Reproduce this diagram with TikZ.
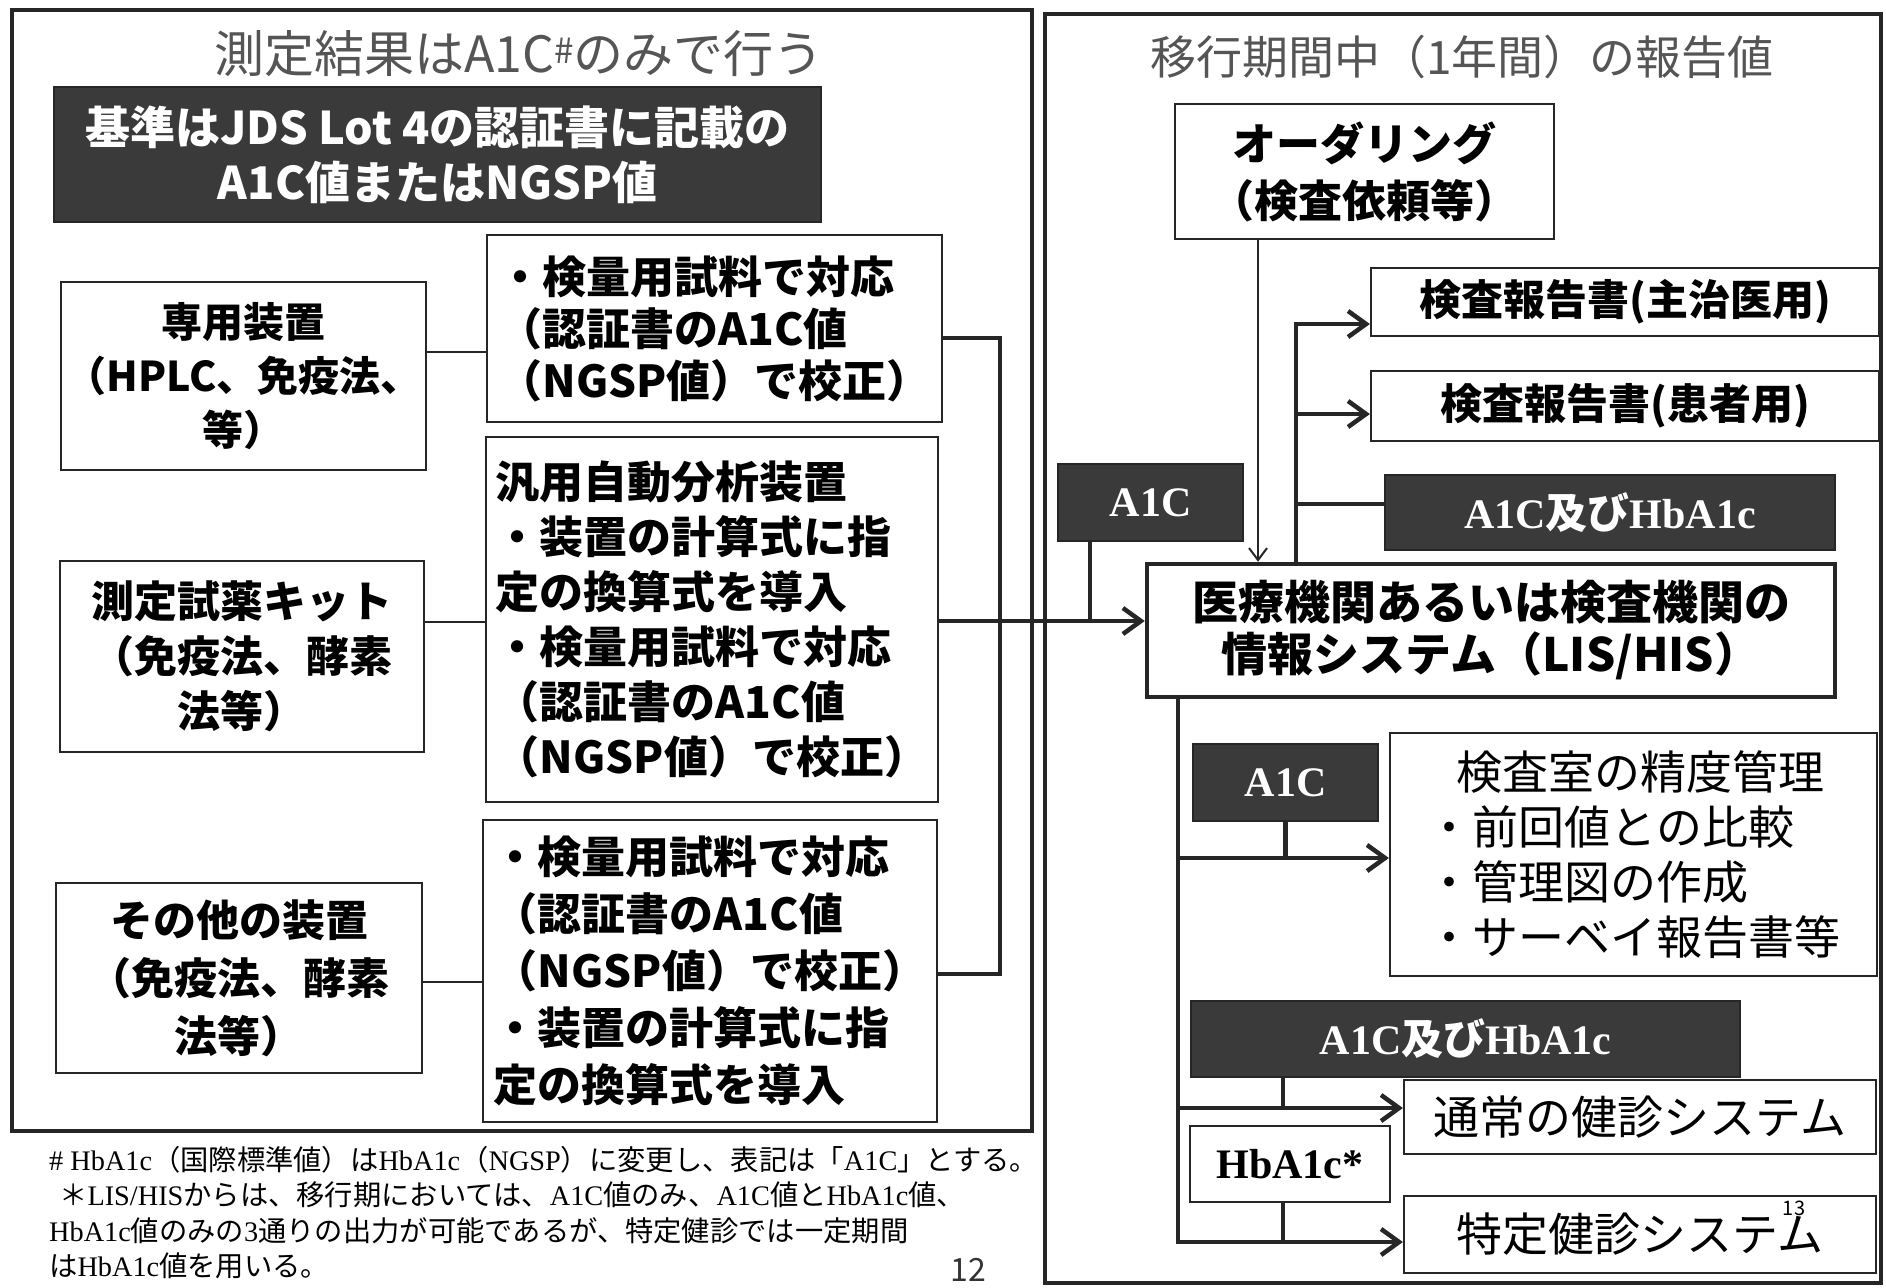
\documentclass[tikz,border=0pt]{standalone}
\usepackage{fontspec}
\setmainfont{Noto Sans CJK JP}
\newfontfamily\tms{Liberation Serif}
\usetikzlibrary{arrows.meta}
\definecolor{dk}{HTML}{3A3A3A}
\definecolor{tg}{HTML}{555555}
\newcommand\fs[2]{\fontsize{#1}{#2}\selectfont}
\newcommand\tb[1]{{\tms\bfseries #1}}
\tikzset{
 box/.style={draw=black!85, line width=2.2pt, fill=white, inner sep=0pt, align=center},
 dbox/.style={draw=black!85, line width=2.5pt, fill=dk, text=white, inner sep=0pt, align=center},
 panel/.style={draw=black!85, line width=4pt, inner sep=0pt},
 bus/.style={line width=4.5pt, draw=black!85},
 tline/.style={line width=2pt, draw=black!85},
 arr/.style={-{Straight Barb[length=18pt,width=26pt]}},
 tarr/.style={-{Straight Barb[length=12pt,width=18pt]}},
}
\begin{document}
\begin{tikzpicture}[x=1pt,y=-1pt]
\useasboundingbox (0,0) rectangle (1886,1287);
\fill[white] (0,0) rectangle (1886,1287);
% panels
\node[panel, minimum width=1020pt, minimum height=1121pt] (lp) at (522,570.5) {};
\node[panel, minimum width=836pt, minimum height=1269pt] (rp) at (1463,648.5) {};
% left panel
\node[text=tg, font=\fs{50}{56}] (lt) at (519,54) {測定結果はA1C\textsuperscript{\#}のみで行う};
\node[dbox, minimum width=767pt, minimum height=135pt, font=\bfseries\fs{45}{55}] (std) at (437.5,154.5) {基準はJDS Lot 4の認証書に記載の\\A1C値またはNGSP値};
\node[box, minimum width=365pt, minimum height=188pt, font=\bfseries\fs{41}{54}] (dev1) at (243.5,376) {専用装置\\（HPLC、免疫法、\\等）};
\node[box, align=left, minimum width=455pt, minimum height=187pt, font=\bfseries\fs{44}{52}] (cal1) at (714.5,328.5) {・検量用試料で対応\\（認証書のA1C値\\（NGSP値）で校正）};
\node[box, minimum width=364pt, minimum height=191pt, font=\bfseries\fs{43}{55}] (kit) at (242,656.5) {測定試薬キット\\（免疫法、酵素\\法等）};
\node[box, align=left, minimum width=452pt, minimum height=365pt, font=\bfseries\fs{44}{55}] (gen) at (712,619.5) {汎用自動分析装置\\・装置の計算式に指\\定の換算式を導入\\・検量用試料で対応\\（認証書のA1C値\\（NGSP値）で校正）};
\node[box, minimum width=366pt, minimum height=190pt, font=\bfseries\fs{43}{58}] (oth) at (239,978) {その他の装置\\（免疫法、酵素\\法等）};
\node[box, align=left, minimum width=454pt, minimum height=302pt, font=\bfseries\fs{44}{57}] (cal3) at (710,971) {・検量用試料で対応\\（認証書のA1C値\\（NGSP値）で校正）\\・装置の計算式に指\\定の換算式を導入};
% right panel
\node[text=tg, font=\fs{46}{50}] (rt) at (1462,57) {移行期間中（1年間）の報告値};
\node[box, minimum width=379pt, minimum height=135pt, font=\bfseries\fs{44}{57}] (ord) at (1364.5,171.5) {オーダリング\\（検査依頼等）};
\node[box, minimum width=508pt, minimum height=68pt, font=\bfseries\fs{42}{50}] (rep1) at (1625,302) {検査報告書(主治医用)};
\node[box, minimum width=508pt, minimum height=70pt, font=\bfseries\fs{42}{50}] (rep2) at (1625,406) {検査報告書(患者用)};
\node[dbox, minimum width=450pt, minimum height=75pt, font=\fs{42}{50}] (hb1) at (1610,512.5) {\tb{A1C}{\bfseries 及び}\tb{HbA1c}};
\node[dbox, minimum width=185pt, minimum height=77pt, font=\fs{42}{50}] (a1c1) at (1150.5,502.5) {\tb{A1C}};
\node[box, line width=4.5pt, minimum width=688pt, minimum height=133pt, font=\bfseries\fs{46}{52}] (lis) at (1491,630.5) {医療機関あるいは検査機関の\\情報システム（LIS/HIS）};
\node[dbox, minimum width=185pt, minimum height=77pt, font=\fs{42}{50}] (a1c2) at (1285.5,782.5) {\tb{A1C}};
\node[box, align=left, minimum width=487pt, minimum height=243pt, font=\fs{46}{55}] (qc) at (1633.5,854.5) {\hspace*{30pt}検査室の精度管理\\・前回値との比較\\・管理図の作成\\・サーベイ報告書等};
\node[dbox, minimum width=549pt, minimum height=76pt, font=\fs{42}{50}] (hb2) at (1465.5,1039) {\tb{A1C}{\bfseries 及び}\tb{HbA1c}};
\node[box, minimum width=472pt, minimum height=74pt, font=\fs{46}{50}] (norm) at (1640,1117) {通常の健診システム};
\node[box, minimum width=200pt, minimum height=76pt, font=\fs{42}{50}] (hbs) at (1290,1164) {\tb{HbA1c*}};
\node[box, minimum width=472pt, minimum height=77pt, font=\fs{46}{50}] (spec) at (1640,1234.5) {特定健診システム};
% left connectors
\coordinate (c1) at (0,352);
\coordinate (c2) at (0,622);
\coordinate (c3) at (0,982);
\draw[tline] (dev1.east |- c1) -- (cal1.west |- c1);
\draw[tline] (kit.east |- c2) -- (gen.west |- c2);
\draw[tline] (oth.east |- c3) -- (cal3.west |- c3);
\coordinate (b1) at (1000,338);
\coordinate (b3) at (1000,974);
\draw[bus] (cal1.east |- b1) -- (b1) -- (b3) -- (cal3.east |- b3);
\coordinate (m) at (0,621);
\draw[bus, arr] (gen.east |- m) -- (lis.west |- m);
\coordinate (av) at (1090,621);
\draw[bus] (a1c1.south -| av) -- (av);
% right connectors
\coordinate (ov) at (1258,0);
\draw[tline, tarr] (ord.south -| ov) -- (lis.north -| ov);
\coordinate (r1) at (1296,324);
\coordinate (r2) at (1296,414);
\coordinate (r3) at (1296,504);
\draw[bus, arr] (lis.north -| r1) -- (r1) -- (rep1.west |- r1);
\draw[bus, arr] (r2) -- (rep2.west |- r2);
\draw[bus] (r3) -- (hb1.west |- r3);
\coordinate (l1) at (1178,858);
\coordinate (l2) at (1178,1108);
\coordinate (l3) at (1178,1242);
\draw[bus, arr] (lis.south -| l3) -- (l3) -- (spec.west |- l3);
\draw[bus, arr] (l1) -- (qc.west |- l1);
\draw[bus, arr] (l2) -- (norm.west |- l2);
\draw[bus] (a1c2.south) -- (a1c2.south |- l1);
\coordinate (v2) at (1283,0);
\draw[bus] (hb2.south -| v2) -- (v2 |- l2);
\draw[bus] (hbs.south -| v2) -- (v2 |- l3);
% footnote
\node[anchor=north west, align=left, inner sep=0pt, font=\fs{28.3}{35.5}] (fn) at (49,1146) {{\tms \# HbA1c}（国際標準値）は{\tms HbA1c}（{\tms NGSP}）に変更し、表記は「{\tms A1C}」とする。\\
\hspace*{10pt}＊{\tms LIS/HIS}からは、移行期においては、{\tms A1C}値のみ、{\tms A1C}値と{\tms HbA1c}値、\\
{\tms HbA1c}値のみの{\tms 3}通りの出力が可能であるが、特定健診では一定期間\\
は{\tms HbA1c}値を用いる。};
\node[font=\fs{32}{32}, text=black!80] (p12) at (968,1270) {12};
\node[font=\fs{20}{20}] (p13) at (1794,1208) {13};
\end{tikzpicture}
\end{document}
